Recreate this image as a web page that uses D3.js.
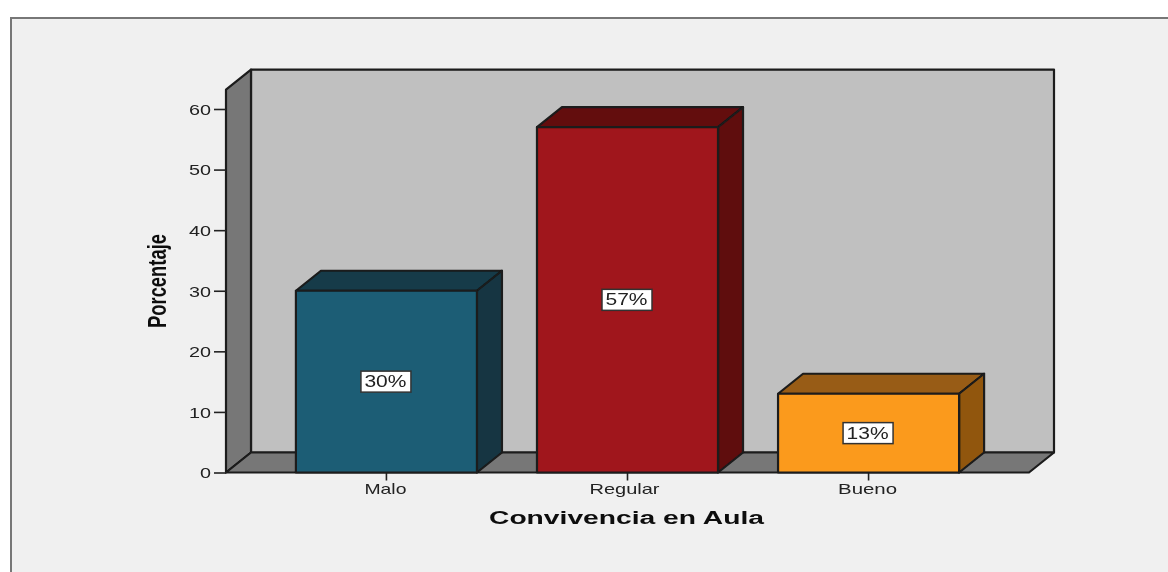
<!DOCTYPE html>
<html>
<head>
<meta charset="utf-8">
<script src="https://cdnjs.cloudflare.com/ajax/libs/d3/7.8.5/d3.min.js"></script>
<style>
html, body { margin: 0; padding: 0; background: #fff; overflow: hidden; }
svg { display: block; }
text { font-family: "Liberation Sans", Arial, sans-serif; }
</style>
</head>
<body>
<svg width="1168" height="572"></svg>
<script>
const categories = ["Malo", "Regular", "Bueno"];
const porcentajes = [30, 57, 13];
const etiquetas = ["30%", "57%", "13%"];
const yTicks = [0, 10, 20, 30, 40, 50, 60];
const colores = ["#1b5d75", "#a0151a", "#fb9a1e"];
const coloresTapa = ["#133a48", "#640d10", "#985b12"];
const coloresLado = ["#123642", "#5e0c0f", "#915711"];
const yMax = 63.2;

var svg = d3.select("svg"),
width = +svg.attr("width"),
height = +svg.attr("height");

// fake 3d depth of the SPSS box
var depthX = 25, depthY = -20;
var left = 226, right = 1029, bottom = 472.5;
var stroke = "#1a1a1a";

var y = d3.scaleLinear().domain([0, 60]).range([bottom, 109]);
var x = d3.scaleBand().domain(categories).range([left, right]).paddingInner(0.249).paddingOuter(0.29);

var blur = svg.append("defs").append("filter").attr("id", "soft")
	.attr("x", "-5%").attr("y", "-5%").attr("width", "110%").attr("height", "110%");
blur.append("feGaussianBlur").attr("stdDeviation", 0.45);

var root = svg.append("g").attr("filter", "url(#soft)");

// frame
root.append("rect").attr("x", 11).attr("y", 18).attr("width", width).attr("height", height)
	.attr("fill", "#f0f0f0").attr("stroke", "#777").attr("stroke-width", 2);

function poly(points, fill) {
	return root.append("polygon")
		.attr("points", points.map(function(p) { return p.join(","); }).join(" "))
		.attr("fill", fill)
		.attr("stroke", stroke)
		.attr("stroke-width", 2.2)
		.attr("stroke-linejoin", "round");
}

var top3d = y(yMax);

// back wall, side wall, floor
poly([[left + depthX, top3d + depthY], [right + depthX, top3d + depthY], [right + depthX, bottom + depthY], [left + depthX, bottom + depthY]], "#c0c0c0");
poly([[left, top3d], [left + depthX, top3d + depthY], [left + depthX, bottom + depthY], [left, bottom]], "#777777");
poly([[left, bottom], [left + depthX, bottom + depthY], [right + depthX, bottom + depthY], [right, bottom]], "#777777");

// y axis
var yAxis = d3.axisLeft(y).tickValues(yTicks).tickSize(12).tickPadding(3);
var gy = root.append("g").attr("transform", "translate(" + left + ",0)").call(yAxis);
gy.select(".domain").remove();
gy.selectAll("line").attr("stroke", "#222").attr("stroke-width", 1.6);
gy.selectAll("text")
	.attr("fill", "#222")
	.attr("font-size", 15)
	.attr("dy", "0.36em")
	.attr("textLength", function(d) { return d == 0 ? 11 : 22; })
	.attr("lengthAdjust", "spacingAndGlyphs");

// x axis
var xAxis = d3.axisBottom(x).tickSize(8).tickPadding(3);
var gx = root.append("g").attr("transform", "translate(0," + bottom + ")").call(xAxis);
gx.select(".domain").remove();
gx.selectAll("line").attr("stroke", "#222").attr("stroke-width", 1.6);
gx.selectAll("text")
	.attr("fill", "#222")
	.attr("font-size", 15)
	.attr("dx", function(d) { return d == "Regular" ? -3 : -1; })
	.attr("textLength", function(d) { return d == "Regular" ? 70 : (d == "Bueno" ? 59 : 42); })
	.attr("lengthAdjust", "spacingAndGlyphs");

// bars
categories.forEach(function(c, i) {
	var x0 = x(c), x1 = x0 + x.bandwidth(), yv = y(porcentajes[i]);
	poly([[x0, yv], [x0 + depthX, yv + depthY], [x1 + depthX, yv + depthY], [x1, yv]], coloresTapa[i]);
	poly([[x1, yv], [x1 + depthX, yv + depthY], [x1 + depthX, bottom + depthY], [x1, bottom]], coloresLado[i]);
	poly([[x0, yv], [x1, yv], [x1, bottom], [x0, bottom]], colores[i]);

	var cx = x0 + x.bandwidth() / 2, cy = y(porcentajes[i] / 2);
	root.append("rect")
		.attr("x", cx - 25.5).attr("y", cy - 10.5)
		.attr("width", 50).attr("height", 21)
		.attr("fill", "#fff").attr("stroke", "#333").attr("stroke-width", 1.5);
	root.append("text")
		.attr("x", cx - 1).attr("y", cy + 5.5)
		.attr("text-anchor", "middle")
		.attr("font-size", 16)
		.attr("fill", "#222")
		.attr("textLength", 42)
		.attr("lengthAdjust", "spacingAndGlyphs")
		.text(etiquetas[i]);
});

// axis titles
root.append("text")
	.attr("x", 626.5).attr("y", 524)
	.attr("text-anchor", "middle")
	.attr("font-size", 18)
	.attr("font-weight", "bold")
	.attr("fill", "#111")
	.attr("textLength", 275)
	.attr("lengthAdjust", "spacingAndGlyphs")
	.text("Convivencia en Aula");

root.append("text")
	.attr("transform", "translate(166,281) rotate(-90)")
	.attr("text-anchor", "middle")
	.attr("font-size", 26)
	.attr("font-weight", "bold")
	.attr("fill", "#111")
	.attr("textLength", 94)
	.attr("lengthAdjust", "spacingAndGlyphs")
	.text("Porcentaje");
</script>
</body>
</html>
